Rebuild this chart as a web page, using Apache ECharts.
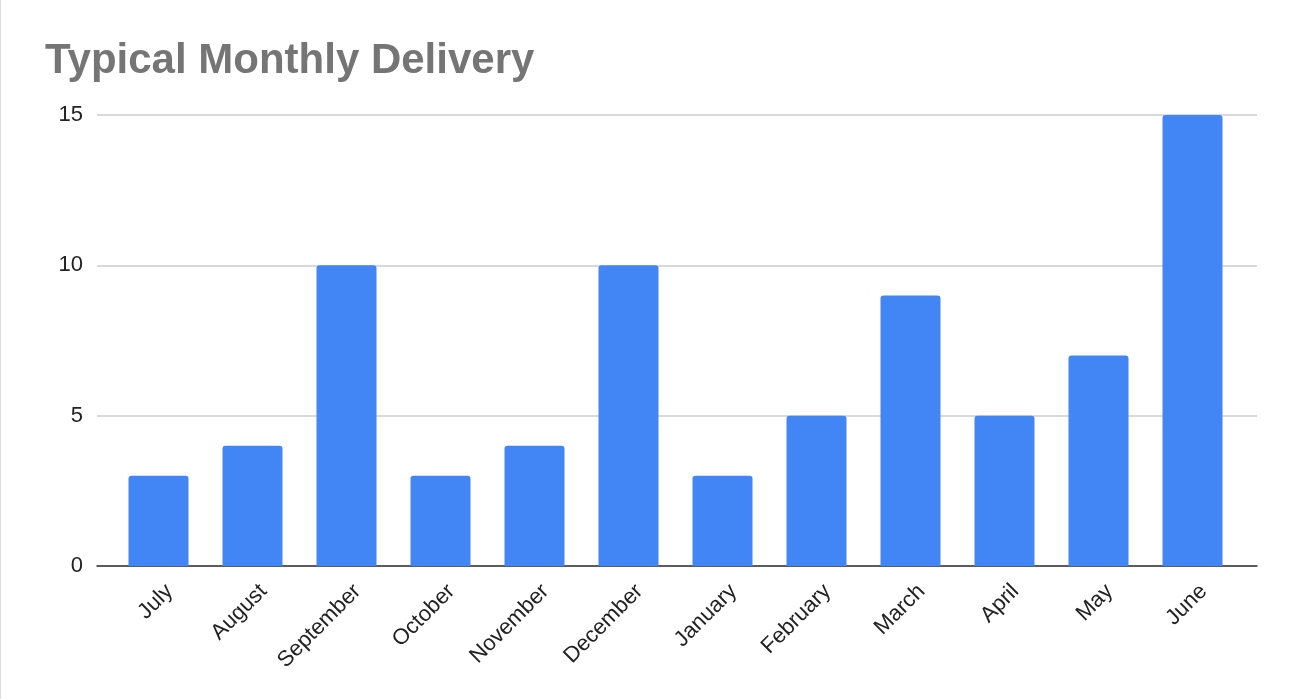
<!DOCTYPE html>
<html>
<head>
<meta charset="utf-8">
<title>Typical Monthly Delivery</title>
<script src="https://cdn.jsdelivr.net/npm/echarts@6/dist/echarts.min.js"></script>
<style>
  html, body { margin: 0; padding: 0; background: #fff; }
  #chart { width: 1296px; height: 699px; border-left: 1px solid #dddddd; }
</style>
</head>
<body>
<div id="chart"></div>
<script>
// data
const months = ['July', 'August', 'September', 'October', 'November', 'December',
  'January', 'February', 'March', 'April', 'May', 'June'];
const deliveries = [3, 4, 10, 3, 4, 10, 3, 5, 9, 5, 7, 15];
const yTicks = [0, 5, 10, 15];

const font = 'Liberation Sans, Arial, sans-serif';
const barColor = '#4285f4';

const chart = echarts.init(document.getElementById('chart'));

// grid 0: gridlines + y labels (wider than the bars, like Sheets)
// grid 1: the bars
// grid 2: the slanted month labels, nudged right
const plotTop = 115, plotBottom = 133;
chart.setOption({
  animation: false,
  title: {
    text: 'Typical Monthly Delivery',
    left: 39,
    top: 35,
    textStyle: { fontFamily: font, fontSize: 42, fontWeight: 'bold', color: '#757575' }
  },
  grid: [
    { left: 96, right: 40, top: plotTop, bottom: plotBottom },
    { left: 110.5, width: 1128, top: plotTop, bottom: plotBottom },
    { left: 121.5, width: 1128, top: plotTop, bottom: plotBottom }
  ],
  xAxis: [
    {
      gridIndex: 0, type: 'category', data: months,
      axisLine: { lineStyle: { color: '#333', width: 1.5 } },
      axisTick: { show: false }, axisLabel: { show: false }
    },
    {
      gridIndex: 1, type: 'category', data: months,
      axisLine: { show: false }, axisTick: { show: false }, axisLabel: { show: false }
    },
    {
      gridIndex: 2, type: 'category', data: months,
      axisLine: { show: false }, axisTick: { show: false },
      axisLabel: { rotate: 45, margin: 22, fontFamily: font, fontSize: 22, color: '#222' }
    }
  ],
  yAxis: [0, 1, 2].map(function (i) {
    return {
      gridIndex: i, type: 'value', min: yTicks[0], max: yTicks[yTicks.length - 1], interval: 5,
      show: i === 0,
      axisLine: { show: false }, axisTick: { show: false },
      axisLabel: { margin: 14, fontFamily: font, fontSize: 22, color: '#222' },
      splitLine: { show: i === 0, lineStyle: { color: '#cccccc', width: 1.5 } }
    };
  }),
  series: [{
    type: 'bar',
    xAxisIndex: 1,
    yAxisIndex: 1,
    data: deliveries,
    barWidth: 60,
    itemStyle: { color: barColor, borderRadius: [3, 3, 0, 0] }
  }]
});
</script>
</body>
</html>
